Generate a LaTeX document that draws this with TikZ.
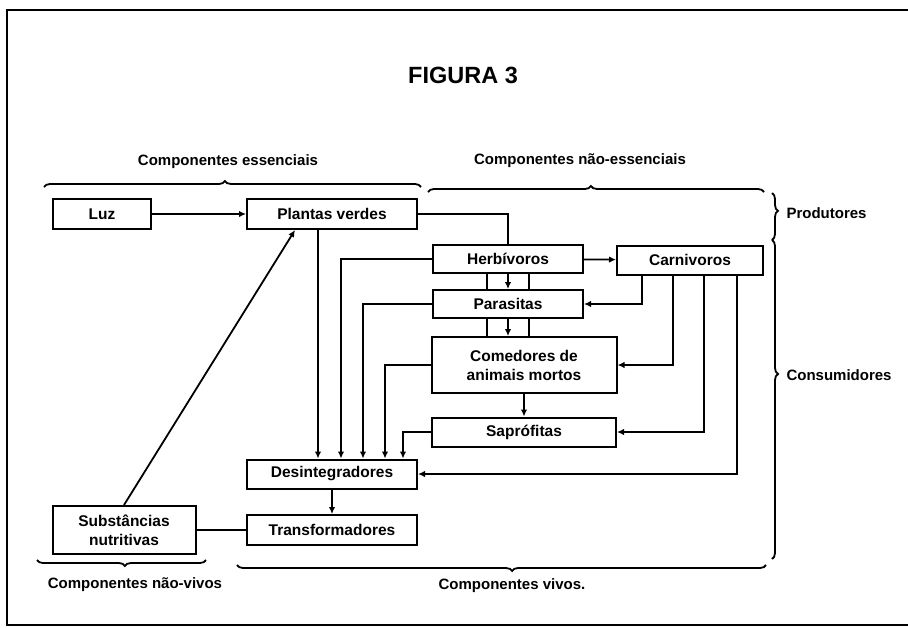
\documentclass[tikz,border=0pt]{standalone}
\usepackage{fontspec}
\setmainfont{Liberation Sans}
\usetikzlibrary{arrows.meta,decorations.pathreplacing}

\begin{document}
\begin{tikzpicture}[x=1pt,y=-1pt,
    box/.style={draw, line width=2pt, inner sep=0pt, align=center,
        font=\bfseries\fontsize{15.5}{19}\selectfont},
    arr/.style={line width=1.8pt, -{Latex[length=7pt,width=6.5pt]}},
    link/.style={line width=1.8pt},
    lbl/.style={font=\bfseries\fontsize{15}{18}\selectfont},
    brc/.style={line width=1.8pt, decorate,
        decoration={brace, amplitude=6pt, aspect=#1}}]

    % Page size and the frame round the figure
    \useasboundingbox (0,0) rectangle (908,627);
    \draw[line width=2pt] (908,10) -- (7,10) -- (7,625) -- (908,625);

    % Title
    \node[font=\bfseries\fontsize{23.5}{27}\selectfont] (title) at (463,75) {FIGURA 3};

    % The boxes of the food chain
    \node[box, minimum width=98pt, minimum height=30pt] (luz) at (102,214) {Luz};
    \node[box, minimum width=170pt, minimum height=30pt] (plantas) at (332,214) {Plantas verdes};
    \node[box, minimum width=150pt, minimum height=28pt] (herb) at (508,259) {Herbívoros};
    \node[box, minimum width=146pt, minimum height=29pt] (carn) at (690,260) {Carnivoros};
    \node[box, minimum width=150pt, minimum height=28pt] (para) at (508,304) {Parasitas};
    \node[box, minimum width=185pt, minimum height=56pt] (com) at (524,365) {Comedores de\\animais mortos};
    \node[box, minimum width=184pt, minimum height=29pt] (sap) at (524,432) {Saprófitas};
    \node[box, minimum width=170pt, minimum height=29pt] (des) at (332,474) {Desintegradores};
    \node[box, minimum width=170pt, minimum height=30pt] (trans) at (332,530) {Transformadores};
    \node[box, minimum width=143pt, minimum height=48pt] (sub) at (124,530) {Substâncias\\nutritivas};

    % Top row
    \draw[arr] (luz) -- (plantas);
    \draw[link] (plantas.east) -| (herb.north);
    \draw[arr] (herb) -- (carn);

    % Herbivoros -> Parasitas -> Comedores (three strands, the middle one with a tip)
    \foreach \dx in {-21,21} {
        \draw[link] ([xshift=\dx pt]herb.south) -- ([xshift=\dx pt]para.north);
        \draw[link] ([xshift=\dx pt]para.south) -- ([xshift=\dx pt]para.south |- com.north);
    }
    \draw[arr] (herb.south) -- (para.north);
    \draw[arr] (para.south) -- (para.south |- com.north);
    \draw[arr] (com.south) -- (com.south |- sap.north);

    % Carnivoros feeds the boxes below it
    \draw[arr] ([xshift=-48pt]carn.south) |- (para.east);
    \draw[arr] ([xshift=-17pt]carn.south) |- (com.east);
    \draw[arr] ([xshift=14pt]carn.south) |- (sap.east);
    \draw[arr] ([xshift=47pt]carn.south) |- (des.east);

    % Everything ends up in the Desintegradores
    \draw[arr] ([xshift=-14pt]plantas.south) -- ([xshift=-14pt]des.north);
    \draw[arr] (herb.west) -| ([xshift=9pt]des.north);
    \draw[arr] (para.west) -| ([xshift=31pt]des.north);
    \draw[arr] (com.west) -| ([xshift=53pt]des.north);
    \draw[arr] (sap.west) -| ([xshift=71pt]des.north);

    % Back to the start of the cycle
    \draw[arr] (des) -- (trans);
    \draw[link] (sub) -- (trans);
    \draw[arr] (sub.north) -- ([xshift=-37pt]plantas.south);

    % Braces and their labels
    \draw[brc=0.48] (44,187) -- (421,187);
    \node[lbl] (ess) at (228,162) {Componentes essenciais};
    \draw[brc=0.485] (428,192) -- (764,192);
    \node[lbl] (ness) at (580,161) {Componentes não-essenciais};
    \draw[brc=0.38] (772,193) -- (772,240);
    \node[lbl, anchor=west] (prod) at (783,213) {Produtores};
    \draw[brc=0.42] (772,240) -- (772,559);
    \node[lbl, anchor=west] (cons) at (783,375) {Consumidores};
    \draw[brc=0.48] (206,560) -- (37,560);
    \node[lbl] (nviv) at (135,585) {Componentes não-vivos};
    \draw[brc=0.48] (766,565) -- (237,565);
    \node[lbl] (viv) at (512,586) {Componentes vivos.};

\end{tikzpicture}
\end{document}
